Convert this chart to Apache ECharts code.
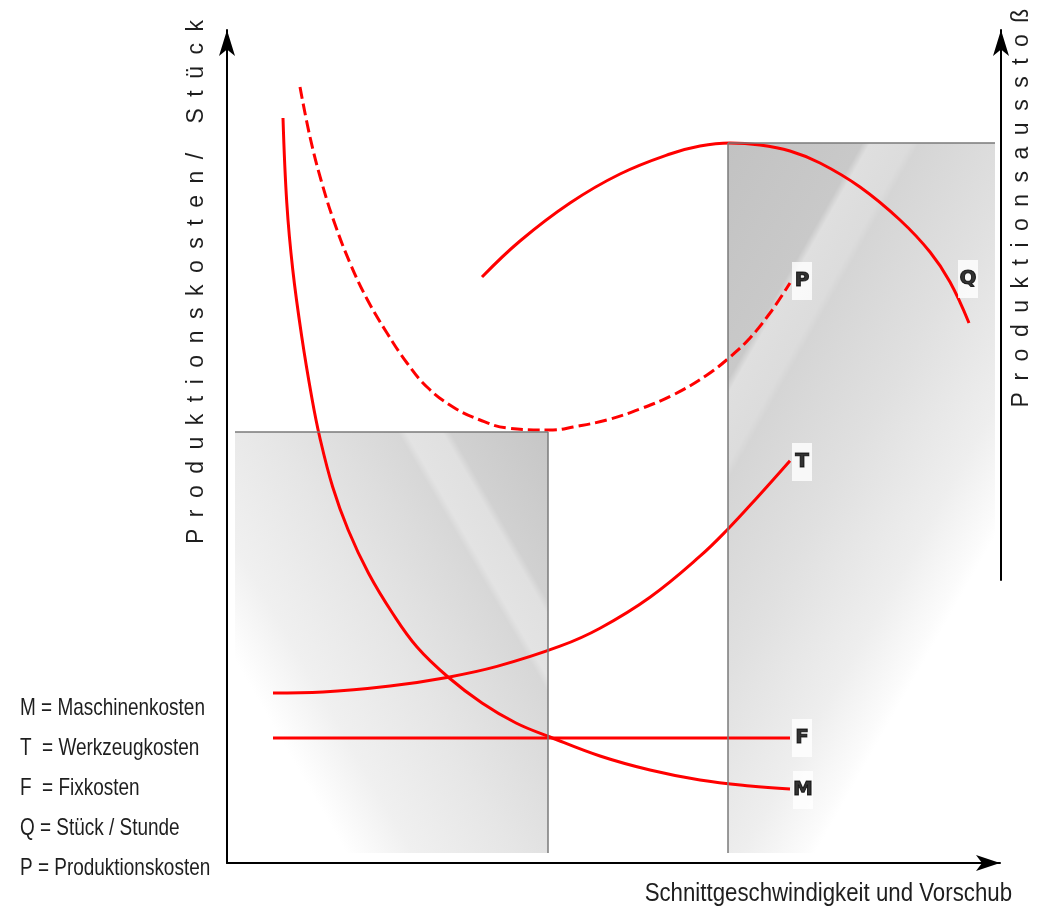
<!DOCTYPE html>
<html>
<head>
<meta charset="utf-8">
<script src="https://cdn.jsdelivr.net/npm/echarts@6/dist/echarts.min.js"></script>
<style>
html,body{margin:0;padding:0;background:#fff;}
#chart{width:1043px;height:913px;}
</style>
</head>
<body>
<div id="chart"></div>
<script>
// ---- data (arbitrary units) ----
const mCurve = [[56,745],[59.8,660],[65.8,593],[74.8,526],[84.7,466],[92.7,426],[105.7,376],[121.2,333],[141.4,290],[165.4,250],[190,216],[221,186],[255,160],[289,140],[323,126],[373,107],[423,93],[473,83],[523,77],[563,74]];
const tCurve = [[46,170],[96,171],[163,177],[220,185.6],[270,196.6],[333,216.8],[373,234.8],[423,265.8],[473,306.8],[501,334],[530,365.3],[563,402.3]];
const fLine = [[46,125],[563,125]];
const pCurve = [[73,776],[83,726],[94,683],[107,641.5],[123,600],[140,564],[160,530],[180,500],[200,476],[226,456],[253,443],[280,435],[326,433],[346,436],[380,443],[413,454],[446,468],[480,488],[503,506],[523,525],[543,550],[563,580]];
const qCurve = [[255,586],[293,622],[343,660],[393,689],[443,709],[473,717],[503,720],[533,718],[563,712],[593,700],[633,676],[673,643],[703,611],[723,581],[742,540]];
const leftBox = [[8,10],[321,431]];
const rightBox = [[501,10],[768,720]];
const curveLabels = [[575,582,'P'],[741,584,'Q'],[575,401,'T'],[575,125,'F'],[576,73,'M']];
const legendLines = ['M = Maschinenkosten','T  = Werkzeugkosten','F  = Fixkosten','Q = Stück / Stunde','P = Produktionskosten'];
const yNameLeft = 'Produktionskosten/ Stück';
const yNameRight = 'Produktionsausstoß';
const xName = 'Schnittgeschwindigkeit und Vorschub';

function spaced(s){ return Array.from(s).join('\u2002'); }

const RED = '#ff0000';
const FONT = "'Liberation Sans', Arial, sans-serif";

const leftGrad = {type:'linear', x:0, y:1, x2:1.332, y2:0.428, colorStops:[
  {offset:0,color:'#ffffff'},{offset:0.2,color:'#ffffff'},{offset:0.32,color:'#f0f0f0'},
  {offset:0.5,color:'#e6e6e6'},{offset:0.73,color:'#d7d7d7'},{offset:0.745,color:'#e3e3e3'},
  {offset:0.81,color:'#e0e0e0'},{offset:0.825,color:'#d1d1d1'},{offset:1,color:'#c6c6c6'}]};
const rightGrad = {type:'linear', x:0, y:0, x2:1.903, y2:0.406, colorStops:[
  {offset:0,color:'#c2c2c2'},{offset:0.2,color:'#c9c9c9'},{offset:0.212,color:'#dfdfdf'},
  {offset:0.272,color:'#dcdcdc'},{offset:0.285,color:'#d5d5d5'},{offset:0.45,color:'#e0e0e0'},
  {offset:0.62,color:'#eeeeee'},{offset:0.71,color:'#fbfbfb'},{offset:0.73,color:'#ffffff'},{offset:1,color:'#ffffff'}]};

const chart = echarts.init(document.getElementById('chart'));

const axisLineStyle = {color:'#000', width:2};

const graphics = [];
legendLines.forEach((t,i)=>{
  graphics.push({type:'text', x:20, y:708 + i*40, scaleX:0.79,
    style:{text:t, x:0, y:0, font:'24px ' + FONT, fill:'#1e1e1e', textAlign:'left', textVerticalAlign:'middle'}});
});
graphics.push({type:'text', x:1012, y:894, scaleX:0.89,
  style:{text:xName, x:0, y:0, font:'25px ' + FONT, fill:'#1e1e1e', textAlign:'right', textVerticalAlign:'middle'}});
graphics.push({type:'text', x:197, y:282, rotation:Math.PI/2,
  style:{text:spaced(yNameLeft), x:0, y:0, font:'23px ' + FONT, fill:'#1e1e1e', textAlign:'center', textVerticalAlign:'middle'}});
graphics.push({type:'text', x:1022, y:208, rotation:Math.PI/2,
  style:{text:spaced(yNameRight), x:0, y:0, font:'23px ' + FONT, fill:'#1e1e1e', textAlign:'center', textVerticalAlign:'middle'}});

const lineBase = {type:'line', smooth:0.4, showSymbol:false, symbol:'none', z:3, silent:true,
  xAxisIndex:0, yAxisIndex:0};

chart.setOption({
  animation:false,
  backgroundColor:'#fff',
  grid:[
    {left:227, top:30, width:773, height:833},
    {left:1001, top:30, width:1, height:550}
  ],
  xAxis:[
    {type:'value', gridIndex:0, min:0, max:773,
     axisLine:{show:true, lineStyle:axisLineStyle, symbol:['none','arrow'], symbolSize:[12,24]},
     axisTick:{show:false}, axisLabel:{show:false}, splitLine:{show:false}},
    {type:'value', gridIndex:1, min:0, max:1, show:false}
  ],
  yAxis:[
    {type:'value', gridIndex:0, min:0, max:833,
     axisLine:{show:true, lineStyle:axisLineStyle, symbol:['none','arrow'], symbolSize:[12,26]},
     axisTick:{show:false}, axisLabel:{show:false}, splitLine:{show:false}},
    {type:'value', gridIndex:1, min:0, max:1, position:'left',
     axisLine:{show:true, onZero:false, lineStyle:axisLineStyle, symbol:['none','arrow'], symbolSize:[12,26]},
     axisTick:{show:false}, axisLabel:{show:false}, splitLine:{show:false}}
  ],
  graphic: graphics,
  series:[
    {type:'line', name:'Flächen', data:[[0,0]], showSymbol:false, symbol:'none', lineStyle:{opacity:0}, z:1, silent:true,
     markArea:{silent:true, data:[
       [{coord:leftBox[0], itemStyle:{color:leftGrad}}, {coord:leftBox[1]}],
       [{coord:rightBox[0], itemStyle:{color:rightGrad}}, {coord:rightBox[1]}]
     ]},
     markLine:{silent:true, symbol:['none','none'], label:{show:false},
       lineStyle:{color:'#7a7a7a', width:1.5, type:'solid'},
       data:[
         [{coord:[leftBox[0][0], leftBox[1][1]]}, {coord:[leftBox[1][0], leftBox[1][1]]}],
         [{coord:[leftBox[1][0], leftBox[1][1]]}, {coord:[leftBox[1][0], leftBox[0][1]]}],
         [{coord:[rightBox[0][0], rightBox[1][1]]}, {coord:[rightBox[1][0], rightBox[1][1]]}],
         [{coord:[rightBox[0][0], rightBox[1][1]]}, {coord:[rightBox[0][0], rightBox[0][1]]}]
       ]}
    },
    Object.assign({}, lineBase, {name:'M', data:mCurve, lineStyle:{color:RED, width:3}}),
    Object.assign({}, lineBase, {name:'T', data:tCurve, lineStyle:{color:RED, width:3}}),
    Object.assign({}, lineBase, {name:'F', data:fLine, smooth:false, lineStyle:{color:RED, width:3}}),
    Object.assign({}, lineBase, {name:'P', data:pCurve, lineStyle:{color:RED, width:3, type:[12,5]}}),
    Object.assign({}, lineBase, {name:'Q', data:qCurve, lineStyle:{color:RED, width:3}}),
    {type:'scatter', name:'Beschriftung', data:curveLabels, z:4, silent:true,
     symbol:'rect', symbolSize:[20,38], itemStyle:{color:'#ffffff'},
     label:{show:true, position:'inside', formatter:p=>p.value[2],
       color:'#000', fontWeight:'bold', fontSize:20, fontFamily:"'DejaVu Sans', sans-serif",
       textBorderColor:'#000', textBorderWidth:1}}
  ]
});
</script>
</body>
</html>
